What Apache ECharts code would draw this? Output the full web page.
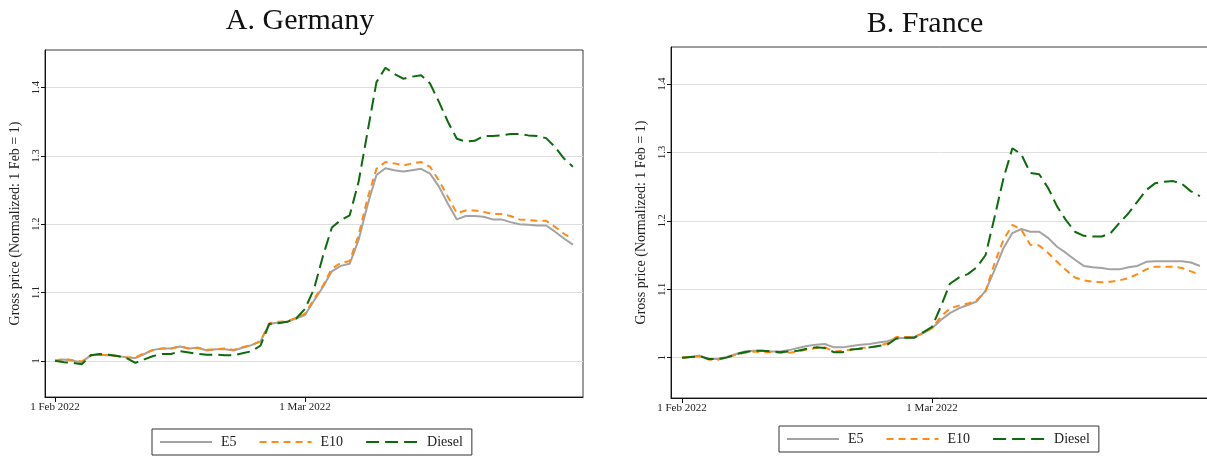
<!DOCTYPE html>
<html>
<head>
<meta charset="utf-8">
<script src="https://cdn.jsdelivr.net/npm/echarts@6/dist/echarts.min.js"></script>
<style>
  html, body { margin: 0; padding: 0; background: #fff; }
  #chart { width: 1207px; height: 458px; }
</style>
</head>
<body>
<div id="chart"></div>
<script>
// Daily gross fuel prices, normalized so that 1 Feb 2022 = 1 (index 0 = 1 Feb 2022)
const seriesNames = ['E5', 'E10', 'Diesel'];
const panelTitles = ['A. Germany', 'B. France'];
const tickDays = [0, 28];
const tickLabels = ['1 Feb 2022', '1 Mar 2022'];
const yTicks = [1, 1.1, 1.2, 1.3, 1.4];

const deE5 = [1.000, 1.002, 1.000, 0.998, 1.008, 1.009, 1.008, 1.007, 1.005, 1.004,
  1.010, 1.016, 1.018, 1.018, 1.021, 1.018, 1.019, 1.015, 1.017, 1.017,
  1.015, 1.019, 1.023, 1.028, 1.054, 1.056, 1.057, 1.062, 1.067, 1.088,
  1.108, 1.131, 1.139, 1.142, 1.177, 1.228, 1.272, 1.282, 1.279, 1.277,
  1.279, 1.281, 1.274, 1.255, 1.230, 1.207, 1.212, 1.212, 1.211, 1.207,
  1.207, 1.203, 1.200, 1.199, 1.198, 1.198, 1.189, 1.179, 1.170];
const deE10 = [1.000, 1.003, 1.001, 0.999, 1.008, 1.009, 1.008, 1.007, 1.005, 1.005,
  1.011, 1.016, 1.018, 1.018, 1.021, 1.018, 1.019, 1.016, 1.017, 1.018,
  1.016, 1.020, 1.023, 1.029, 1.055, 1.057, 1.058, 1.063, 1.069, 1.090,
  1.110, 1.135, 1.143, 1.146, 1.184, 1.238, 1.281, 1.291, 1.289, 1.286,
  1.289, 1.291, 1.284, 1.264, 1.240, 1.216, 1.220, 1.220, 1.218, 1.215,
  1.215, 1.212, 1.207, 1.206, 1.205, 1.205, 1.196, 1.186, 1.178];
const deDiesel = [1.000, 0.998, 0.997, 0.995, 1.008, 1.010, 1.009, 1.007, 1.004, 0.997,
  1.002, 1.007, 1.010, 1.010, 1.014, 1.012, 1.010, 1.009, 1.009, 1.008,
  1.008, 1.011, 1.014, 1.022, 1.054, 1.055, 1.057, 1.062, 1.076, 1.105,
  1.153, 1.195, 1.206, 1.213, 1.262, 1.335, 1.408, 1.429, 1.420, 1.413,
  1.416, 1.418, 1.406, 1.379, 1.350, 1.325, 1.321, 1.322, 1.329, 1.329,
  1.330, 1.332, 1.332, 1.330, 1.329, 1.326, 1.313, 1.296, 1.284];

const frE5 = [1.000, 1.001, 1.003, 0.998, 0.998, 1.001, 1.005, 1.009, 1.010, 1.010,
  1.009, 1.009, 1.011, 1.014, 1.017, 1.019, 1.020, 1.015, 1.015, 1.017,
  1.019, 1.020, 1.022, 1.024, 1.028, 1.029, 1.030, 1.036, 1.043, 1.055,
  1.065, 1.072, 1.077, 1.082, 1.098, 1.128, 1.160, 1.182, 1.188, 1.184,
  1.184, 1.175, 1.162, 1.153, 1.143, 1.134, 1.132, 1.131, 1.129, 1.129,
  1.132, 1.134, 1.140, 1.141, 1.141, 1.141, 1.141, 1.139, 1.134];
const frE10 = [1.000, 1.001, 1.002, 0.997, 0.997, 1.000, 1.004, 1.007, 1.009, 1.008,
  1.008, 1.007, 1.007, 1.009, 1.012, 1.014, 1.015, 1.009, 1.010, 1.012,
  1.014, 1.015, 1.017, 1.021, 1.030, 1.030, 1.030, 1.036, 1.043, 1.060,
  1.072, 1.076, 1.079, 1.084, 1.097, 1.138, 1.172, 1.194, 1.187, 1.165,
  1.164, 1.153, 1.140, 1.128, 1.117, 1.113, 1.111, 1.110, 1.111, 1.113,
  1.116, 1.122, 1.129, 1.133, 1.133, 1.133, 1.131, 1.126, 1.121];
const frDiesel = [1.000, 1.001, 1.002, 0.998, 0.998, 1.000, 1.005, 1.008, 1.010, 1.010,
  1.009, 1.008, 1.009, 1.010, 1.013, 1.015, 1.014, 1.008, 1.008, 1.012,
  1.013, 1.015, 1.017, 1.019, 1.028, 1.029, 1.029, 1.037, 1.045, 1.075,
  1.108, 1.117, 1.122, 1.132, 1.150, 1.205, 1.262, 1.306, 1.297, 1.270,
  1.268, 1.248, 1.221, 1.201, 1.184, 1.178, 1.177, 1.177, 1.182, 1.197,
  1.211, 1.228, 1.245, 1.255, 1.257, 1.258, 1.254, 1.243, 1.236];

const SERIF = "'Liberation Serif', 'DejaVu Serif', serif";
const lineStyles = {
  E5:     { color: '#a3a3a3', width: 2, type: 'solid' },
  E10:    { color: '#ff8a14', width: 2, type: [7, 5] },
  Diesel: { color: '#0d6a0d', width: 2, type: [13, 6] }
};

// The France panel runs past the right edge of the canvas, so its frame has no right side.
const panels = [
  { grid: { left: 45, width: 538, top: 50, bottom: 61 }, yMin: 0.947, yMax: 1.455,
    xMin: -1.12, xMax: 59.13, titleX: 295, titleY: 1, legendX: 152, legendY: 429,
    data: { E5: deE5, E10: deE10, Diesel: deDiesel } },
  { grid: { left: 671, width: 545, top: 47, bottom: 60 }, yMin: 0.941, yMax: 1.454,
    xMin: -1.23, xMax: 59.8, titleX: 920, titleY: 4, legendX: 779, legendY: 426,
    data: { E5: frE5, E10: frE10, Diesel: frDiesel } }
];

const toPoints = arr => arr.map((v, i) => [i, v]);

const option = {
  animation: false,
  backgroundColor: '#ffffff',
  title: panels.map((p, k) => ({
    text: panelTitles[k], left: p.titleX, top: p.titleY, textAlign: 'center',
    textStyle: { fontFamily: SERIF, fontSize: 30, fontWeight: 'normal', color: '#111' }
  })),
  grid: panels.map(p => Object.assign({ show: true, borderColor: '#3a3a3a', borderWidth: 1,
    backgroundColor: 'transparent', containLabel: false, outerBoundsMode: 'none' }, p.grid)),
  legend: panels.map((p, k) => ({
    left: p.legendX, top: p.legendY, orient: 'horizontal',
    data: seriesNames,
    itemWidth: 52, itemHeight: 14, itemGap: 22,
    padding: [6, 9, 6, 7],
    borderColor: '#333', borderWidth: 1,
    // legend keys show only the line sample, no marker
    itemStyle: { color: 'rgba(0,0,0,0)', borderWidth: 0, opacity: 0 },
    textStyle: { fontFamily: SERIF, fontSize: 14, color: '#222', padding: [0, 0, 0, 4] }
  })),
  xAxis: panels.map((p, k) => ({
    type: 'value', gridIndex: k, min: p.xMin, max: p.xMax,
    axisLine: { show: true, onZero: false, lineStyle: { color: '#111', width: 1 } },
    axisTick: { show: true, customValues: tickDays, length: 5, lineStyle: { color: '#111' } },
    axisLabel: { customValues: tickDays, margin: 5, fontFamily: SERIF, fontSize: 11, color: '#222',
      formatter: v => tickLabels[tickDays.indexOf(Math.round(v))] || '' },
    splitLine: { show: false }
  })),
  yAxis: panels.map((p, k) => ({
    type: 'value', gridIndex: k, min: p.yMin, max: p.yMax,
    name: 'Gross price (Normalized: 1 Feb = 1)', nameLocation: 'middle', nameGap: 23,
    nameTextStyle: { fontFamily: SERIF, fontSize: 14, color: '#222' },
    axisLine: { show: true, onZero: false, lineStyle: { color: '#111', width: 1 } },
    axisTick: { show: true, customValues: yTicks, length: 4, lineStyle: { color: '#111' } },
    axisLabel: { customValues: yTicks, rotate: 90, margin: 3, fontFamily: SERIF, fontSize: 10.5, color: '#222' },
    splitLine: { show: true, lineStyle: { color: '#dedede', width: 1 } }
  })),
  series: []
};

panels.forEach((p, k) => {
  seriesNames.forEach(name => {
    option.series.push({
      name: name, type: 'line', xAxisIndex: k, yAxisIndex: k,
      data: toPoints(p.data[name]),
      showSymbol: false, symbol: 'none', smooth: false,
      lineStyle: lineStyles[name], itemStyle: { color: lineStyles[name].color },
      z: name === 'E5' ? 2 : (name === 'E10' ? 3 : 4)
    });
  });
});

const chart = echarts.init(document.getElementById('chart'), null, { renderer: 'canvas' });
chart.setOption(option);
</script>
</body>
</html>
